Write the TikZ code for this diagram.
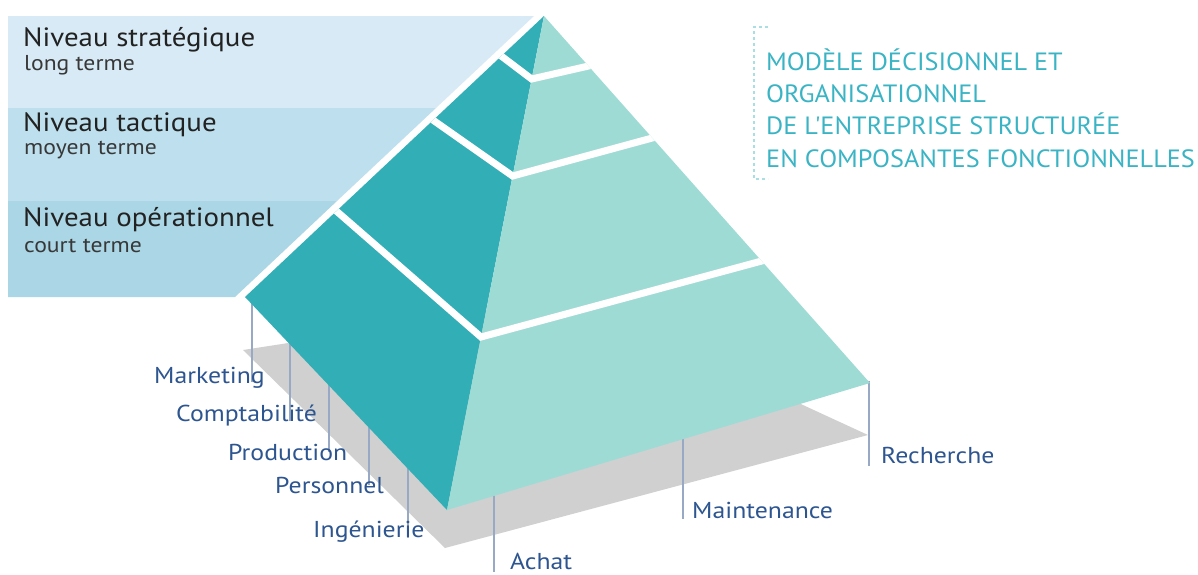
\documentclass[tikz,border=0pt]{standalone}
\usepackage{fontspec}
\newfontfamily\fLevel{PT Sans}[FakeStretch=1.09]
\newfontfamily\fTerm{PT Sans}[FakeStretch=1.1]
\newfontfamily\fLabel{PT Sans}[FakeStretch=1.12]
\newfontfamily\fTitle{PT Sans}[FakeStretch=1.05]
\definecolor{bandA}{HTML}{D7EAF6}
\definecolor{bandB}{HTML}{BEE0EE}
\definecolor{bandC}{HTML}{ABD6E5}
\definecolor{darkface}{HTML}{32AEB6}
\definecolor{lightface}{HTML}{9FDBD5}
\definecolor{shadowgray}{HTML}{D0D0D0}
\definecolor{leadercol}{HTML}{97A9C4}
\definecolor{labelblue}{HTML}{2D5590}
\definecolor{titleteal}{HTML}{3AB4C4}
\definecolor{bracketcol}{HTML}{A9DEE2}
\definecolor{leveltext}{HTML}{222222}
\begin{document}
\begin{tikzpicture}[x=1pt,y=-1pt,
  levelname/.style={anchor=base west,inner sep=0pt,text=leveltext,font=\fLevel\fontsize{26.5}{30}\selectfont},
  levelterm/.style={anchor=base west,inner sep=0pt,text=leveltext!90,font=\fTerm\fontsize{21.5}{25}\selectfont},
  funclabel/.style={anchor=base west,inner sep=0pt,text=labelblue,font=\fLabel\fontsize{23}{26}\selectfont},
  titleline/.style={anchor=base west,inner sep=0pt,text=titleteal,font=\fTitle\fontsize{25}{30}\selectfont},
  leader/.style={draw=leadercol,line width=1.2pt},
  gapline/.style={draw=white,line width=7pt,line join=miter},
]
\useasboundingbox (0,0) rectangle (1198,574);
% coordinates of pyramid
\coordinate (A) at (544,16);
\coordinate (L) at (245,297);
\coordinate (F) at (447,510);
\coordinate (R) at (870,383);
% bands
\fill[bandA] (8,16) -- (534,16) -- (436,108) -- (8,108) -- cycle;
\fill[bandB] (8,108) -- (436,108) -- (337,201) -- (8,201) -- cycle;
\fill[bandC] (8,201) -- (337,201) -- (235,297) -- (8,297) -- cycle;
% shadow
\fill[shadowgray] (243,350) -- (573,299) -- (868,435) -- (445,548) -- cycle;
% leader lines
\foreach \n/\x/\ya/\yb in {m/252/300/382, c/290/340/421, p/329/380/452, s/369/422/485, i/408/462/538,
                         a/494/492/572, t/683/436/519, r/869/381/466}{
  \coordinate (\n top) at (\x,\ya);
  \coordinate (\n bot) at (\x,\yb);
  \draw[leader] (\n top) -- (\n bot);
}
% faces
\fill[darkface] (A) -- (L) -- (F) -- cycle;
\fill[lightface] (A) -- (F) -- (R) -- cycle;
% tier gaps
\begin{scope}
  \clip (A) -- (L) -- (F) -- (R) -- cycle;
  \draw[gapline] (486,44.5) -- (531.6,79) -- (617,59.5);
  \draw[gapline] (393,92) -- (512.6,176) -- (722,119);
  \draw[gapline] (264,148) -- (481,337) -- (902,223);
\end{scope}
% level texts
\node[levelname] (n1) at (23,46) {Niveau stratégique};
\node[levelterm] (t1) at (24,70) {long terme};
\node[levelname] (n2) at (23,131) {Niveau tactique};
\node[levelterm] (t2) at (24,154) {moyen terme};
\node[levelname] (n3) at (23,226) {Niveau opérationnel};
\node[levelterm] (t3) at (24,252) {court terme};
% function labels
\node[funclabel] (lm) at (154,383) {Marketing};
\node[funclabel] (lc) at (176,421) {Comptabilité};
\node[funclabel] (lp) at (228,460) {Production};
\node[funclabel] (ls) at (275,493) {Personnel};
\node[funclabel] (li) at (313,537) {Ingénierie};
\node[funclabel] (la) at (510,569) {Achat};
\node[funclabel] (lt) at (692,518) {Maintenance};
\node[funclabel] (lr) at (881,463) {Recherche};
% title
\draw[bracketcol,line width=1.5pt,dash pattern=on 3pt off 3pt] (768,27) -- (754,27) -- (754,179) -- (768,179);
\node[titleline] (h1) at (766,70) {MODÈLE DÉCISIONNEL ET};
\node[titleline] (h2) at (766,102) {ORGANISATIONNEL};
\node[titleline] (h3) at (766,134) {DE L'ENTREPRISE STRUCTURÉE};
\node[titleline] (h4) at (766,167) {EN COMPOSANTES FONCTIONNELLES};
\end{tikzpicture}
\end{document}
